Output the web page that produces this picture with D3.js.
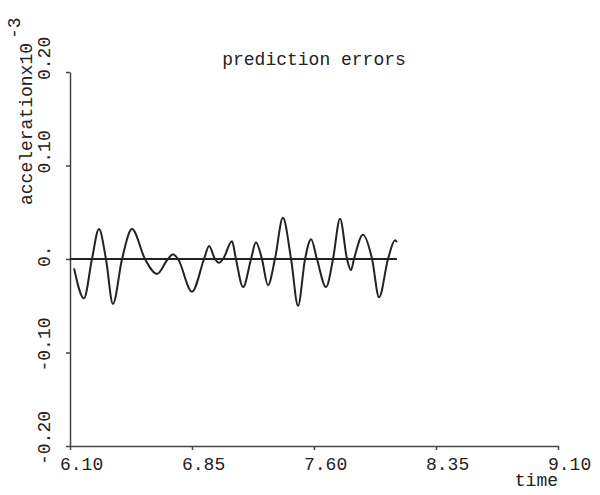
<!DOCTYPE html>
<html lang="en">
<head>
<meta charset="UTF-8">
<title>prediction errors</title>
<script src="https://d3js.org/d3.v7.min.js"></script>
<style>
    body{ margin: 0; background: #fff; }
    text{ font-family: "Liberation Mono", "DejaVu Sans Mono", monospace; fill: #222; }
    .axis path, .axis line{ stroke: #444; stroke-width: 1.5; }
</style>
</head>
<body>
<svg id="chart" width="600" height="495"></svg>
<script>
    // axis ticks
    const xTicks = [6.10, 6.85, 7.60, 8.35, 9.10];
    const xTickLabels = ["6.10", "6.85", "7.60", "8.35", "9.10"];
    const yTicks = [-0.20, -0.10, 0, 0.10, 0.20];
    const yTickLabels = ["-0.20", "-0.10", "0.", "0.10", "0.20"];

    // prediction error series
    const time = [6.125, 6.186, 6.235, 6.278, 6.321, 6.364, 6.420, 6.481, 6.561, 6.635,
                  6.702, 6.733, 6.764, 6.850, 6.924, 6.955, 6.991, 7.016, 7.041, 7.096,
                  7.120, 7.164, 7.213, 7.243, 7.280, 7.317, 7.360, 7.409, 7.459, 7.502,
                  7.545, 7.582, 7.618, 7.674, 7.717, 7.760, 7.803, 7.827, 7.846, 7.901,
                  7.957, 8.000, 8.055, 8.098, 8.110];
    const error = [-0.010, -0.042, 0, 0.032, 0, -0.048, 0, 0.032, 0, -0.016,
                   0, 0.005, 0, -0.035, 0, 0.014, 0, -0.004, 0, 0.019,
                   0, -0.030, 0, 0.018, 0, -0.028, 0, 0.044, 0, -0.050,
                   0, 0.021, 0, -0.030, 0, 0.043, 0, -0.012, 0, 0.026,
                   0, -0.041, 0, 0.020, 0.018];
    const zeroLine = [6.10, 8.11];

    const svg = d3.select("#chart");
    const x = d3.scaleLinear().domain([6.10, 9.10]).range([70, 558]);
    const y = d3.scaleLinear().domain([-0.20, 0.20]).range([446, 72]);

    // x axis
    const gx = svg.append("g")
        .attr("class", "axis")
        .attr("transform", "translate(0," + y(-0.20) + ")")
        .call(d3.axisBottom(x).tickValues(xTicks).tickSize(4).tickSizeOuter(0).tickFormat(""));
    gx.selectAll("text").remove();

    // y axis
    const gy = svg.append("g")
        .attr("class", "axis")
        .attr("transform", "translate(" + x(6.10) + ",0)")
        .call(d3.axisLeft(y).tickValues(yTicks).tickSize(4).tickSizeOuter(0).tickFormat(""));
    gy.selectAll("text").remove();

    // tick labels
    svg.selectAll(".xlab")
        .data(xTicks)
        .enter()
        .append("text")
        .attr("class", "xlab")
        .attr("x", d => x(d) - 10)
        .attr("y", 470)
        .attr("font-size", 18)
        .text((d, i) => xTickLabels[i]);

    svg.selectAll(".ylab")
        .data(yTicks)
        .enter()
        .append("text")
        .attr("class", "ylab")
        .attr("font-size", 18)
        .attr("transform", d => "translate(50," + (y(d) + 8 + (d < 0 ? 11 : 0)) + ") rotate(-90)")
        .text((d, i) => yTickLabels[i]);

    // titles
    svg.append("text")
        .attr("x", 314)
        .attr("y", 65)
        .attr("text-anchor", "middle")
        .attr("font-size", 18)
        .text("prediction errors");

    svg.append("text")
        .attr("x", 558)
        .attr("y", 486)
        .attr("text-anchor", "end")
        .attr("font-size", 18)
        .text("time");

    const ylabel = svg.append("text")
        .attr("font-size", 18)
        .attr("transform", "translate(32,205) rotate(-90)");
    ylabel.append("tspan").text("accelerationx10");
    ylabel.append("tspan").attr("dy", -12).attr("dx", 4).text("-3");

    // zero reference line
    svg.append("line")
        .attr("x1", x(zeroLine[0]))
        .attr("x2", x(zeroLine[1]))
        .attr("y1", y(0))
        .attr("y2", y(0))
        .attr("stroke", "#222")
        .attr("stroke-width", 2);

    // error curve
    const line = d3.line()
        .x((d, i) => x(time[i]))
        .y(d => y(d))
        .curve(d3.curveMonotoneX);

    svg.append("path")
        .datum(error)
        .attr("d", line)
        .attr("fill", "none")
        .attr("stroke", "#222")
        .attr("stroke-width", 2);
</script>
</body>
</html>
